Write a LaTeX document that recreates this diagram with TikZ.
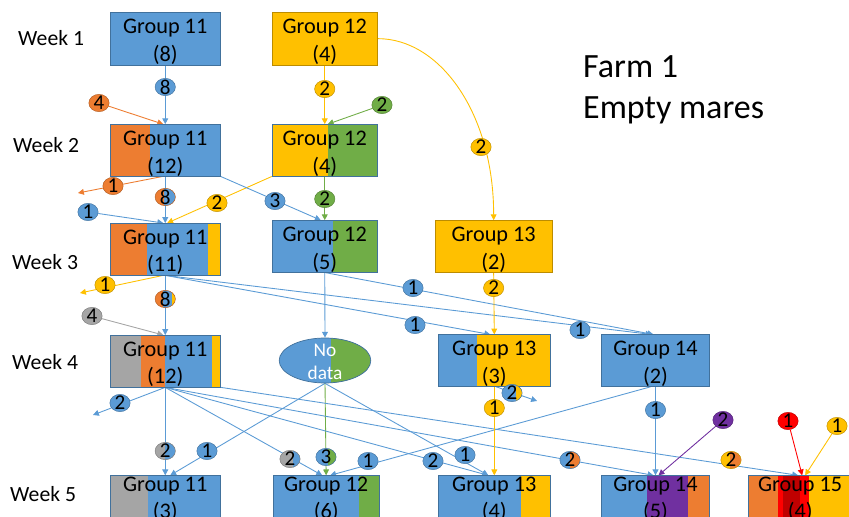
\documentclass[tikz,border=0pt]{standalone}
\usepackage{fontspec}
\setmainfont{Carlito}
\usetikzlibrary{arrows.meta,shapes.geometric,calc}
\pgfdeclarelayer{bg}
\pgfsetlayers{bg,main}
\definecolor{cblue}{HTML}{5B9BD5}
\definecolor{corange}{HTML}{ED7D31}
\definecolor{cyellow}{HTML}{FFC000}
\definecolor{cgreen}{HTML}{70AD47}
\definecolor{cgray}{HTML}{A5A5A5}
\definecolor{cpurple}{HTML}{7030A0}
\definecolor{cred}{HTML}{FF0000}
\definecolor{cdred}{HTML}{C00000}
\definecolor{bblue}{HTML}{41719C}
\definecolor{bgold}{HTML}{BC8C00}
\newcommand\stp[3]{\fill[#1] ($(path picture bounding box.south west)!#2!(path picture bounding box.south east)$) rectangle ($(path picture bounding box.north west)!#3!(path picture bounding box.north east)$);}
\newcommand\gtxt[2]{\rule{0pt}{0.95em}#1\\#2}
\begin{document}
\begin{tikzpicture}[x=0.03cm,y=-0.03cm,
  gbox/.style={draw=bblue, line width=0.6pt, inner sep=0pt, align=center, font=\fontsize{19}{23.4}\selectfont},
  wk/.style={anchor=west, inner sep=0pt, font=\fontsize{18.5}{22}\selectfont},
  lab/.style={ellipse, inner sep=-2pt, minimum width=0.61cm, minimum height=0.52cm, fill=#1, draw=#1!75!black, line width=0.4pt, font=\fontsize{18}{18}\selectfont},
  lab/.default=cblue,
  conn/.style={draw=#1, line width=0.75pt, -{Triangle[length=5pt,width=5pt]}},
  ndata/.style={ellipse, draw=bblue, line width=0.6pt, inner sep=0pt, minimum width=2.75cm, minimum height=1.35cm, fill=cblue, path picture={\stp{cgreen}{0.57}{1}}, text=white, font=\fontsize{16.5}{19.6}\selectfont}
]
\useasboundingbox (0,0) rectangle (849,517);

% week labels and title
\node[wk] (w1) at (18,38) {Week 1};
\node[wk] (w2) at (13,145) {Week 2};
\node[wk] (w3) at (12,262) {Week 3};
\node[wk] (w4) at (12,362) {Week 4};
\node[wk] (w5) at (10,494) {Week 5};
\node[anchor=west, inner sep=0pt, align=left, font=\fontsize{29}{35}\selectfont] (farm) at (583,90) {Farm 1\\Empty mares};

% boxes
\node[gbox, fill=cblue, minimum width=3.315cm, minimum height=1.58cm] (g11w1) at (165.25,38.65) {\gtxt{Group 11}{(8)}};
\node[gbox, draw=bgold, fill=cyellow, minimum width=3.165cm, minimum height=1.58cm] (g12w1) at (324.75,38.65) {\gtxt{Group 12}{(4)}};
\node[gbox, fill=cblue, path picture={\stp{corange}{0}{0.36}}, minimum width=3.315cm, minimum height=1.42cm] (g11w2) at (165.25,150.35) {\gtxt{Group 11}{(12)}};
\node[gbox, fill=cyellow, path picture={\stp{cgreen}{0.53}{1}}, minimum width=3.165cm, minimum height=1.42cm] (g12w2) at (324.75,150.35) {\gtxt{Group 12}{(4)}};
\node[gbox, fill=cblue, path picture={\stp{corange}{0}{0.335}\stp{cyellow}{0.887}{1}}, minimum width=3.315cm, minimum height=1.29cm] (g11w3) at (165.25,249.2) {\gtxt{Group 11}{(11)}};
\node[gbox, fill=cblue, path picture={\stp{cgreen}{0.578}{1}}, minimum width=3.165cm, minimum height=1.46cm] (g12w3) at (324.75,246.35) {\gtxt{Group 12}{(5)}};
\node[gbox, draw=bgold, fill=cyellow, minimum width=3.52cm, minimum height=1.46cm] (g13w3) at (493.65,246.35) {\gtxt{Group 13}{(2)}};
\node[gbox, fill=cblue, path picture={\stp{cgray}{0}{0.278}\stp{corange}{0.278}{0.498}\stp{cyellow}{0.926}{1}}, minimum width=3.315cm, minimum height=1.37cm] (g11w4) at (165.25,361.2) {\gtxt{Group 11}{(12)}};
\node[ndata] (nd) at (325,360.5) {\smash{\raisebox{-0.24cm}{\begin{tabular}{@{}c@{}}No\\data\end{tabular}}}};
\node[gbox, fill=cblue, path picture={\stp{cyellow}{0.343}{1}}, minimum width=3.36cm, minimum height=1.34cm] (g13w4) at (494.3,360.65) {\gtxt{Group 13}{(3)}};
\node[gbox, fill=cblue, minimum width=3.23cm, minimum height=1.34cm] (g14w4) at (655.5,360.65) {\gtxt{Group 14}{(2)}};
\node[gbox, fill=cblue, path picture={\stp{cgray}{0}{0.347}}, minimum width=3.315cm, minimum height=1.42cm] (g11w5) at (165.25,499.35) {Group 11\\(3)};
\node[gbox, fill=cblue, path picture={\stp{cgreen}{0.81}{1}}, minimum width=3.171cm, minimum height=1.42cm] (g12w5) at (326.15,499.35) {Group 12\\(6)};
\node[gbox, fill=cblue, path picture={\stp{cyellow}{0.736}{1}}, minimum width=3.36cm, minimum height=1.42cm] (g13w5) at (494.3,499.35) {Group 13\\(4)};
\node[gbox, fill=cblue, path picture={\stp{cpurple}{0.418}{0.805}\stp{corange}{0.805}{1}}, minimum width=3.23cm, minimum height=1.42cm] (g14w5) at (655.5,499.35) {Group 14\\(5)};
\node[gbox, fill=corange, path picture={\stp{cred}{0.29}{0.59}\stp{cdred}{0.335}{0.5}\stp{cyellow}{0.59}{1}}, minimum width=3.111cm, minimum height=1.42cm] (g15w5) at (800.15,499.35) {Group 15\\(4)};

% count labels
\node[lab=cblue] (l1) at (165.25,87) {8};
\node[lab=corange] (l2) at (99,103) {4};
\node[lab=cyellow] (l3) at (324.75,89) {2};
\node[lab=cgreen] (l4) at (382,105) {2};
\node[lab=cyellow] (l5) at (481,147) {2};
\node[lab=corange] (l6) at (113,186) {1};
\node[lab=corange, path picture={\stp{cblue}{0.45}{1}}] (l7) at (165.25,197) {8};
\node[lab=cyellow] (l8) at (217,203) {2};
\node[lab=cblue] (l9) at (275,201) {3};
\node[lab=cgreen] (l10) at (324.75,199) {2};
\node[lab=cblue] (l11) at (88,212) {1};
\node[lab=cyellow] (l12) at (105,285) {1};
\node[lab=corange, path picture={\stp{cblue}{0.4}{0.85}\stp{cyellow}{0.85}{1}}] (l13) at (165.25,299) {8};
\node[lab=cgray] (l14) at (92,316) {4};
\node[lab] (l15) at (415,325) {1};
\node[lab] (l16) at (580,330) {1};
\node[lab] (l17) at (413,288) {1};
\node[lab=cyellow] (l18) at (493.65,288) {2};
\node[lab] (l19) at (120,403) {2};
\node[lab=cgray, path picture={\stp{cblue}{0.5}{1}}] (l20) at (165.25,451) {2};
\node[lab] (l21) at (207,451) {1};
\node[lab=cgray, path picture={\stp{cblue}{0.65}{1}}] (l22) at (290,459) {2};
\node[lab, path picture={\stp{cgreen}{0.6}{1}}] (l23) at (326,457) {3};
\node[lab] (l24) at (368,461) {1};
\node[lab] (l25) at (433,461) {2};
\node[lab] (l26) at (465,455) {1};
\node[lab, path picture={\stp{corange}{0.5}{1}}] (l27) at (570,460) {2};
\node[lab=cyellow, path picture={\stp{corange}{0.45}{1}}] (l28) at (731,460) {2};
\node[lab, path picture={\stp{cyellow}{0.7}{1}}] (l29) at (512,393) {2};
\node[lab=cyellow] (l30) at (494.3,408) {1};
\node[lab] (l31) at (655.5,410) {1};
\node[lab=cpurple] (l32) at (723,420) {2};
\node[lab=cred] (l33) at (788,421) {1};
\node[lab=cyellow] (l34) at (837,426) {1};

\coordinate (e1) at (78,193);
\coordinate (e2) at (80,293);
\coordinate (e3) at (93,415);
\coordinate (e4) at (537,401);

\begin{pgfonlayer}{bg}
% week 1 -> 2
\draw[conn=cblue] (g11w1.south) -- (g11w2.north);
\draw[conn=corange] (l2) -- ($(g11w2.north)+(-2,0)$);
\draw[conn=cyellow] (g12w1.south) -- (g12w2.north);
\draw[conn=cgreen] (l4) -- ($(g12w2.north)+(3,0)$);
\draw[conn=cyellow] (g12w1.east) .. controls +(62,0) and +(0,-107) .. (g13w3.north);
% week 2 -> 3
\draw[conn=corange] ($(g11w2.south)+(-3,0)$) -- (e1);
\draw[conn=cblue] (g11w2.south) -- (g11w3.north);
\draw[conn=cyellow] (g12w2.south west) -- ($(g11w3.north)+(2,0)$);
\draw[conn=cblue] (g11w2.south east) -- ($(g12w3.north)+(-4,0)$);
\draw[conn=cgreen] (g12w2.south) -- (g12w3.north);
\draw[conn=cblue] (l11) -- ($(g11w3.north)+(-2,0)$);
% week 3 -> 4
\draw[conn=cyellow] ($(g11w3.south)+(-2,0)$) -- (e2);
\draw[conn=cblue] (g11w3.south) -- (g11w4.north);
\draw[conn=cgray] (l14) -- ($(g11w4.north)+(-2,0)$);
\draw[conn=cblue] (g11w3.south) -- ($(g13w4.north)+(-4,0)$);
\draw[conn=cblue] (g11w3.south) -- ($(g14w4.north)+(-4,0)$);
\draw[conn=cblue] (g12w3.south) -- ($(g14w4.north)+(-2,0)$);
\draw[conn=cblue] (g12w3.south) -- (nd.north);
\draw[conn=cyellow] (g13w3.south) -- (g13w4.north);
% week 4 -> 5
\draw[conn=cblue] (g11w4.south) -- (e3);
\draw[conn=cblue] (g11w4.south) -- (g11w5.north);
\draw[conn=cblue] (nd.south) -- ($(g11w5.north)+(5,0)$);
\draw[conn=cblue] (g11w4.south) -- ($(g12w5.north)+(-4,0)$);
\draw[conn=cgreen] (nd.south) -- (g12w5.north);
\draw[conn=cblue] ($(g14w4.south)+(-5,0)$) -- ($(g12w5.north)+(4,0)$);
\draw[conn=cblue] (g11w4.south) -- ($(g13w5.north)+(-6,0)$);
\draw[conn=cblue] (nd.south) -- ($(g13w5.north)+(-6,0)$);
\draw[conn=cblue] (g11w4.south) -- ($(g14w5.north)+(-2,0)$);
\draw[conn=cblue] (g11w4.south east) -- ($(g15w5.north)+(-2,0)$);
\draw[conn=cyellow] (g13w4.south) -- (g13w5.north);
\draw[conn=cblue] ($(g13w4.south)+(2,0)$) -- (e4);
\draw[conn=cblue] (g14w4.south) -- (g14w5.north);
\draw[conn=cpurple] (l32) -- ($(g14w5.north)+(3,0)$);
\draw[conn=cred] (l33) -- ($(g15w5.north)+(2,0)$);
\draw[conn=cyellow] (l34) -- ($(g15w5.north)+(5,0)$);
\end{pgfonlayer}
\end{tikzpicture}
\end{document}
